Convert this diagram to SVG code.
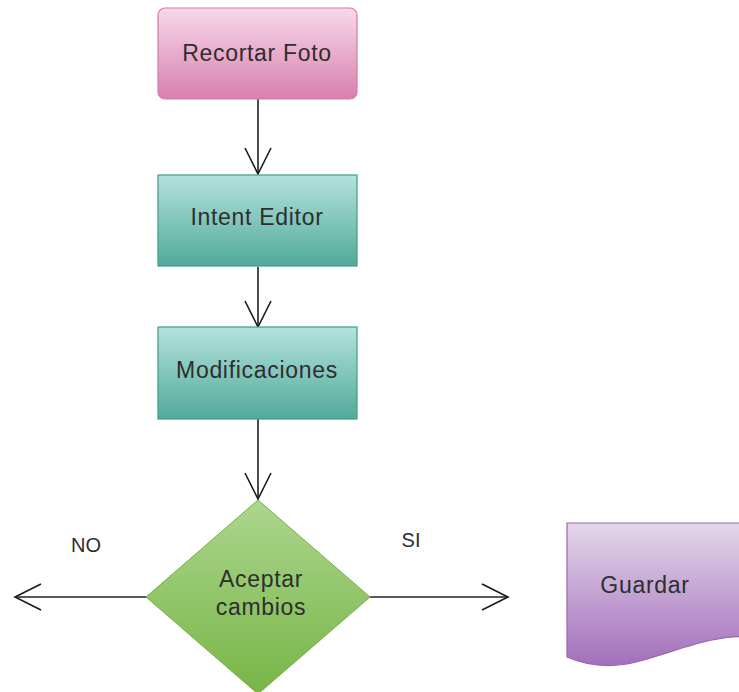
<svg xmlns="http://www.w3.org/2000/svg" width="739" height="692" viewBox="0 0 739 692">
  <defs>
    <linearGradient id="gPink" x1="0" y1="0" x2="0" y2="1">
      <stop offset="0" stop-color="#f7d9e9"/>
      <stop offset="1" stop-color="#d97fae"/>
    </linearGradient>
    <linearGradient id="gTeal" x1="0" y1="0" x2="0" y2="1">
      <stop offset="0" stop-color="#b3e2dc"/>
      <stop offset="1" stop-color="#52aa9a"/>
    </linearGradient>
    <linearGradient id="gGreen" x1="0" y1="0" x2="0" y2="1">
      <stop offset="0" stop-color="#acd68e"/>
      <stop offset="1" stop-color="#78b546"/>
    </linearGradient>
    <linearGradient id="gPurple" x1="0" y1="0" x2="0" y2="1">
      <stop offset="0" stop-color="#e4d6ea"/>
      <stop offset="1" stop-color="#a26fbb"/>
    </linearGradient>
    <marker id="arrow" markerUnits="userSpaceOnUse" markerWidth="32" markerHeight="32" viewBox="-28 -16 32 32" refX="0" refY="0" orient="auto">
      <path d="M-26,-13 L0,0 L-26,13" fill="none" stroke="#1a1a1a" stroke-width="1.6"/>
    </marker>
  </defs>
  <style>
    .lbl { font-family: "Liberation Sans", Arial, sans-serif; font-size: 23px; letter-spacing: 0.7px; fill: #2e2e2e; text-anchor: middle; }
    .edge { font-family: "Liberation Sans", Arial, sans-serif; font-size: 20px; fill: #2e2e2e; text-anchor: middle; }
    .conn { fill: none; stroke: #222222; stroke-width: 1.6; marker-end: url(#arrow); }
  </style>

  <g id="connectors">
    <line class="conn" x1="258" y1="99" x2="258" y2="174"/>
    <line class="conn" x1="258" y1="267" x2="258" y2="327"/>
    <line class="conn" x1="258" y1="419" x2="258" y2="499"/>
    <line class="conn" x1="146" y1="597" x2="15" y2="597"/>
    <line class="conn" x1="370" y1="597" x2="508" y2="597"/>
    <text class="edge" x="86" y="552">NO</text>
    <text class="edge" x="411" y="547">SI</text>
  </g>

  <g id="recortar-foto">
    <rect x="158" y="8" width="199" height="91" rx="7" fill="url(#gPink)" stroke="#d47aa8" stroke-width="1.2"/>
    <text class="lbl" x="257" y="61">Recortar Foto</text>
  </g>

  <g id="intent-editor">
    <rect x="158" y="175" width="199" height="91" fill="url(#gTeal)" stroke="#3f9b8a" stroke-width="1.2"/>
    <text class="lbl" x="257" y="225">Intent Editor</text>
  </g>

  <g id="modificaciones">
    <rect x="158" y="327" width="199" height="92" fill="url(#gTeal)" stroke="#3f9b8a" stroke-width="1.2"/>
    <text class="lbl" x="257" y="378">Modificaciones</text>
  </g>

  <g id="aceptar-cambios">
    <polygon points="258,500 370,597 258,694 146,597" fill="url(#gGreen)" stroke="#76b043" stroke-width="1"/>
    <text class="lbl" x="261" y="587">Aceptar</text>
    <text class="lbl" x="261" y="615">cambios</text>
  </g>

  <g id="guardar">
    <path d="M567,523 H750 V637 C715,634 680,650 640,661 C615,668 590,667 567,657 Z" fill="url(#gPurple)" stroke="#9a66b0" stroke-width="1.2"/>
    <text class="lbl" x="645" y="593">Guardar</text>
  </g>
</svg>
